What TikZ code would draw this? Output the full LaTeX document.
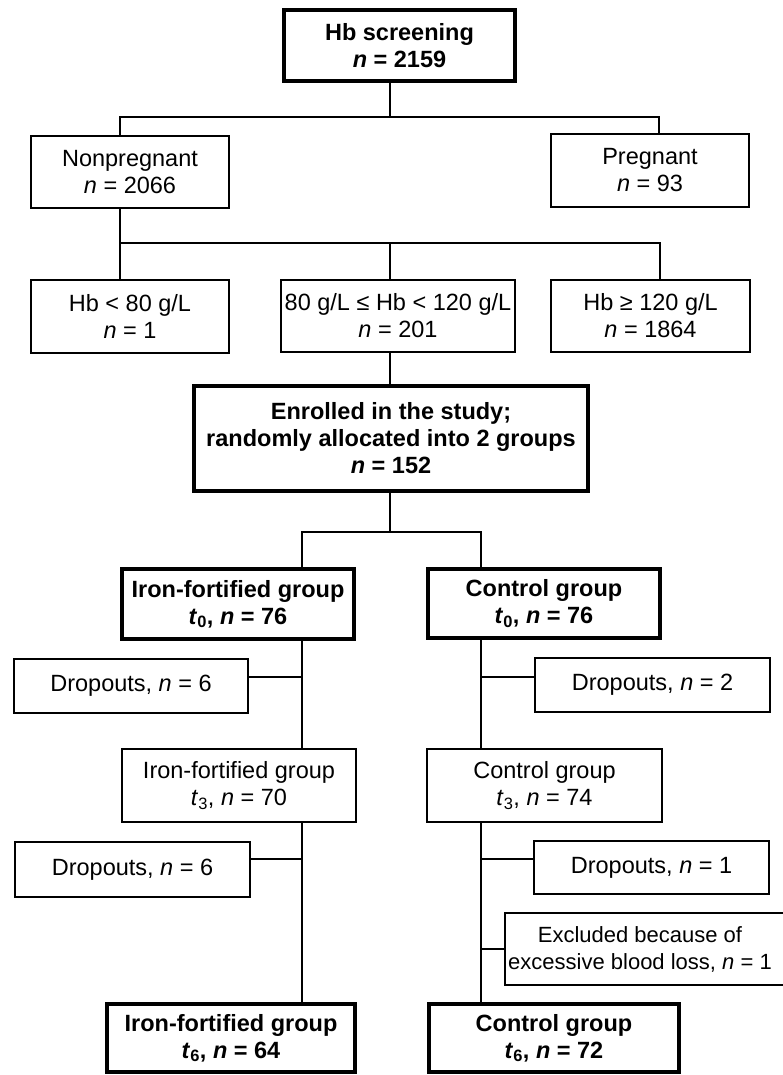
\documentclass[tikz,border=0pt]{standalone}
\usepackage{fontspec}
\setmainfont{Liberation Sans}
\newcommand{\nn}{\textit{n}}
\begin{document}
\begin{tikzpicture}[x=1pt,y=-1pt,
  box/.style={draw, line width=1.3pt, inner sep=0pt, align=center,
    font=\fontsize{23.5}{27}\selectfont},
  tbox/.style={box, line width=4pt, font=\fontsize{23.5}{27}\selectfont\bfseries},
  conn/.style={line width=1.3pt},
  connb/.style={line width=2.2pt}]
\path[use as bounding box, clip] (0,0) rectangle (783,1075);
\fill[white] (0,0) rectangle (783,1075);
% nodes
\node[tbox, minimum width=231pt, minimum height=71pt] (hb) at (399.5,45.5) {Hb screening\\\nn{} = 2159};
\node[box, minimum width=198pt, minimum height=72pt] (nonpreg) at (130,172) {Nonpregnant\\\nn{} = 2066};
\node[box, minimum width=198pt, minimum height=73pt] (preg) at (650,170.5) {Pregnant\\\nn{} = 93};
\node[box, minimum width=198pt, minimum height=73pt] (hbA) at (130,316.5) {Hb < 80 g/L\\\nn{} = 1};
\node[box, minimum width=234pt, minimum height=72pt] (hbB) at (398,316) {80 g/L ≤ Hb < 120 g/L\\\nn{} = 201};
\node[box, minimum width=199pt, minimum height=72pt] (hbC) at (650.5,316) {Hb ≥ 120 g/L\\\nn{} = 1864};
\node[tbox, minimum width=394pt, minimum height=105pt] (enr) at (391,438.5) {Enrolled in the study;\\randomly allocated into 2 groups\\\nn{} = 152};
\node[tbox, minimum width=232pt, minimum height=70pt] (iron0) at (238,604) {Iron-fortified group\\\textit{t}\textsubscript{0}, \nn{} = 76};
\node[tbox, minimum width=232pt, minimum height=69pt] (ctrl0) at (544,603.5) {Control group\\\textit{t}\textsubscript{0}, \nn{} = 76};
\node[box, minimum width=234pt, minimum height=54pt] (drop1) at (131,686) {Dropouts, \nn{} = 6};
\node[box, minimum width=235pt, minimum height=54pt] (drop2) at (652.5,685) {Dropouts, \nn{} = 2};
\node[box, minimum width=234pt, minimum height=73pt] (iron3) at (239,785.5) {Iron-fortified group\\\textit{t}\textsubscript{3}, \nn{} = 70};
\node[box, minimum width=235pt, minimum height=73pt] (ctrl3) at (544.5,785.5) {Control group\\\textit{t}\textsubscript{3}, \nn{} = 74};
\node[box, minimum width=235pt, minimum height=55pt] (drop3) at (132.5,869.5) {Dropouts, \nn{} = 6};
\node[box, minimum width=235pt, minimum height=53pt] (drop4) at (651.5,867.5) {Dropouts, \nn{} = 1};
\node[box, minimum width=310pt, minimum height=72pt, font=\fontsize{22}{27}\selectfont] (excl) at (660,949)
  {Excluded because of\hspace*{40pt}\\excessive blood loss, \nn{} = 1\hspace*{40pt}};
\node[tbox, minimum width=248pt, minimum height=68pt] (iron6) at (231,1038) {Iron-fortified group\\\textit{t}\textsubscript{6}, \nn{} = 64};
\node[tbox, minimum width=250pt, minimum height=68pt] (ctrl6) at (554,1038) {Control group\\\textit{t}\textsubscript{6}, \nn{} = 72};
% junction coordinates
\coordinate (aM) at (390,117);
\coordinate (aL) at (120,117);
\coordinate (aR) at (659,117);
\coordinate (bL) at (120,243);
\coordinate (bM) at (390,243);
\coordinate (bR) at (660,243);
\coordinate (cM) at (390,532);
\coordinate (cL) at (302,532);
\coordinate (cR) at (481,532);
\coordinate (d1) at (302,677);
\coordinate (d2) at (481,677);
\coordinate (d3) at (302,859);
\coordinate (d4) at (481,859);
\coordinate (d5) at (481,949);
% connectors
\draw[conn] (aM |- hb.south) -- (aM);
\draw[conn] (aL |- nonpreg.north) -- (aL) -- (aR) -- (aR |- preg.north);
\draw[connb] (bL |- nonpreg.south) -- (bL);
\draw[conn] (bL |- hbA.north) -- (bL) -- (bR) -- (bR |- hbC.north);
\draw[conn] (bM) -- (bM |- hbB.north);
\draw[conn] (bM |- hbB.south) -- (bM |- enr.north);
\draw[conn] (cM |- enr.south) -- (cM);
\draw[conn] (cL |- iron0.north) -- (cL) -- (cR) -- (cR |- ctrl0.north);
\draw[conn] (cL |- iron0.south) -- (cL |- iron3.north);
\draw[conn] (cR |- ctrl0.south) -- (cR |- ctrl3.north);
\draw[connb] (d1) -- (d1 -| drop1.east);
\draw[conn] (d2) -- (d2 -| drop2.west);
\draw[conn] (cL |- iron3.south) -- (cL |- iron6.north);
\draw[connb] (cR |- ctrl3.south) -- (cR |- ctrl6.north);
\draw[connb] (d3) -- (d3 -| drop3.east);
\draw[conn] (d4) -- (d4 -| drop4.west);
\draw[connb] (d5) -- (d5 -| excl.west);
\end{tikzpicture}
\end{document}
